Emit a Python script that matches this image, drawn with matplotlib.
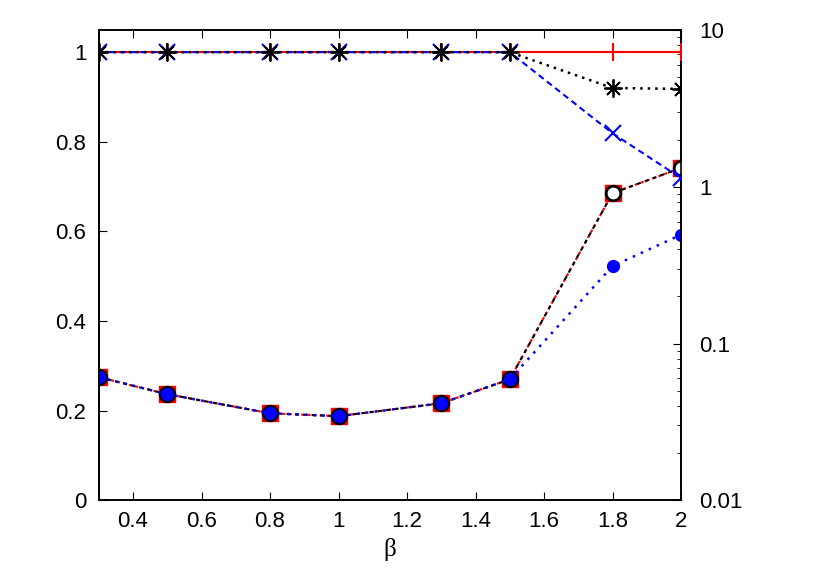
import matplotlib
matplotlib.use("Agg")
import matplotlib.pyplot as plt
from matplotlib.ticker import LogLocator, FixedLocator, NullFormatter

plt.rcParams['font.family'] = ['Liberation Sans', 'DejaVu Sans']

beta = [0.3, 0.5, 0.8, 1.0, 1.3, 1.5, 1.8, 2.0]

# left axis (linear)
red_top = [1, 1, 1, 1, 1, 1, 1, 1]
black_top = [1, 1, 1, 1, 1, 1, 0.92, 0.918]
blue_top = [1, 1, 1, 1, 1, 1, 0.819, 0.719]

# right axis (log)
red_low = [0.0610, 0.0475, 0.0359, 0.0344, 0.0416, 0.0591, 0.912, 1.32]
black_low = [0.0610, 0.0475, 0.0359, 0.0344, 0.0416, 0.0591, 0.912, 1.32]
blue_low = [0.0610, 0.0475, 0.0359, 0.0344, 0.0416, 0.0591, 0.312, 0.495]

xticks = [0.4, 0.6, 0.8, 1.0, 1.2, 1.4, 1.6, 1.8, 2.0]
xlabels = ["0.4", "0.6", "0.8", "1", "1.2", "1.4", "1.6", "1.8", "2"]
yticks = [0, 0.2, 0.4, 0.6, 0.8, 1.0]
ylabels = ["0", "0.2", "0.4", "0.6", "0.8", "1"]
rticks = [0.01, 0.1, 1, 10]
rlabels = ["0.01", "0.1", "1", "10"]

fig = plt.figure(figsize=(8.3, 5.81), dpi=100)
ax = fig.add_axes([0.119, 0.139, 0.7015, 0.809])
ax2 = ax.twinx()

fs = 16

# lower series on log axis
ax2.plot(beta, red_low, color='red', ls=(0, (1.5, 1.5)), lw=1.5,
         marker='s', ms=11.5, mfc='red', mec='red', zorder=3)
ax2.plot(beta, black_low, color='black', ls=(0, (2, 2)), lw=1.5,
         marker='o', ms=10.5, mfc='white', mec='black', mew=2, zorder=4)
ax2.plot(beta, blue_low, color='blue', ls=(0, (1, 2.5)), lw=1.8,
         marker='o', ms=8.5, mfc='blue', mec='blue', zorder=5)

# upper series on linear axis
ax.plot(beta, red_top, color='red', ls='-', lw=1.5,
        marker='+', ms=13, mew=1.5, zorder=3)
ax.plot(beta, blue_top, color='blue', ls=(0, (3, 2)), lw=1.5,
        marker='x', ms=11, mew=1.5, zorder=4)
ax.plot(beta, black_top, color='black', ls=(0, (1, 2)), lw=1.8,
        marker=(8, 2, 0), ms=13, mew=1.3, zorder=5)

ax.set_zorder(ax2.get_zorder() + 1)
ax.patch.set_visible(False)

ax.set_xlim(0.3, 2.0)
ax.set_ylim(0, 1.049)
ax.set_xticks(xticks)
ax.set_xticklabels(xlabels, fontsize=fs)
ax.set_yticks(yticks)
ax.set_yticklabels(ylabels, fontsize=fs)
ax.tick_params(axis='x', direction='in', top=True, length=6, pad=8)
ax.tick_params(axis='y', direction='in', right=False, length=6, pad=9)
ax.set_xlabel('β', fontsize=18, family=['Liberation Serif', 'DejaVu Serif'], labelpad=4)

ax2.set_yscale('log')
ax2.set_ylim(0.01, 10)
ax2.yaxis.set_major_locator(FixedLocator(rticks))
ax2.set_yticklabels(rlabels, fontsize=fs)
ax2.yaxis.set_minor_locator(LogLocator(base=10, subs=range(2, 10)))
ax2.yaxis.set_minor_formatter(NullFormatter())
ax2.tick_params(axis='y', which='major', direction='in', length=6, pad=13)
ax2.tick_params(axis='y', which='minor', direction='in', length=3)

for a in (ax, ax2):
    for s in a.spines.values():
        s.set_linewidth(1.2)

fig.savefig('out.png', dpi=100)
